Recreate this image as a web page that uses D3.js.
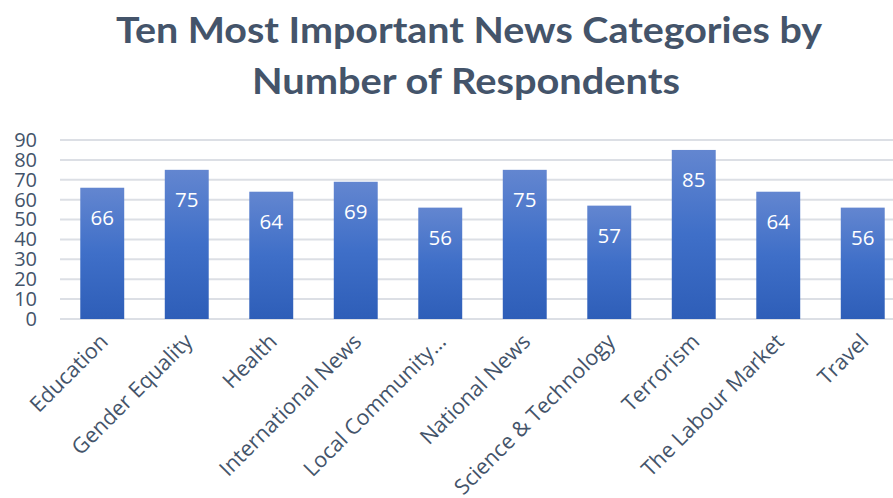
<!DOCTYPE html>
<html>
<head>
<meta charset="utf-8">
<script src="https://cdn.jsdelivr.net/npm/d3@7"></script>
<style>
  html, body { margin: 0; padding: 0; background: #fff; }
  svg { display: block; }
</style>
</head>
<body>
<div id="chart"></div>
<script>
// News categories and how many respondents ranked each among the most important
const categories = [
  "Education", "Gender Equality", "Health", "International News",
  "Local Community\u2026", "National News", "Science & Technology",
  "Terrorism", "The Labour Market", "Travel"
];
const respondents = [66, 75, 64, 69, 56, 75, 57, 85, 64, 56];
const yTicks = [0, 10, 20, 30, 40, 50, 60, 70, 80, 90];
const titleLines = ["Ten Most Important News Categories by", "Number of Respondents"];

const W = 893, H = 498;
const textColor = "#44546A";
const titleFont = "Lato, 'Open Sans', sans-serif";
const font = "'Open Sans', 'Noto Sans', sans-serif";

const svg = d3.select("#chart").append("svg")
  .attr("width", W).attr("height", H);

// Vertical gradient used to fill every bar
const grad = svg.append("defs").append("linearGradient")
  .attr("id", "barFill").attr("x1", 0).attr("y1", 0).attr("x2", 0).attr("y2", 1);
grad.append("stop").attr("offset", "0%").attr("stop-color", "#6386D0");
grad.append("stop").attr("offset", "50%").attr("stop-color", "#3F6FC8");
grad.append("stop").attr("offset", "100%").attr("stop-color", "#2E5EB8");

const x = d3.scaleBand().domain(categories).range([60, 905]).paddingInner(0.48).paddingOuter(0.24);
const y = d3.scaleLinear().domain([0, 90]).range([319, 140]);

// Title
svg.append("g").selectAll("text").data(titleLines).join("text")
  .attr("x", (d, i) => i === 0 ? 469 : 466)
  .attr("y", (d, i) => i === 0 ? 43 : 94)
  .attr("text-anchor", "middle")
  .attr("font-family", titleFont).attr("font-weight", "bold")
  .attr("font-size", 37).attr("fill", textColor)
  .attr("textLength", (d, i) => i === 0 ? 706 : 428)
  .attr("lengthAdjust", "spacingAndGlyphs")
  .text(d => d);

// Horizontal gridlines
svg.append("g").selectAll("line").data(yTicks).join("line")
  .attr("x1", 60).attr("x2", W)
  .attr("y1", d => y(d)).attr("y2", d => y(d))
  .attr("stroke", "#DCDFE5").attr("stroke-width", 2);

// Y axis labels
const yAxis = svg.append("g").attr("transform", "translate(39,0)")
  .call(d3.axisLeft(y).tickValues(yTicks).tickSize(0).tickPadding(2));
yAxis.select(".domain").remove();
yAxis.selectAll("text")
  .attr("font-family", font).attr("font-size", 20).attr("fill", textColor);

// Bars
svg.append("g").selectAll("rect").data(categories).join("rect")
  .attr("x", d => x(d))
  .attr("y", (d, i) => y(respondents[i]))
  .attr("width", x.bandwidth())
  .attr("height", (d, i) => y(0) - y(respondents[i]))
  .attr("fill", "url(#barFill)");

// Value labels inside the top of each bar
svg.append("g").selectAll("text").data(categories).join("text")
  .attr("x", d => x(d) + x.bandwidth() / 2)
  .attr("y", (d, i) => y(respondents[i]) + 37)
  .attr("text-anchor", "middle")
  .attr("font-family", font).attr("font-size", 20.5).attr("fill", "#fff")
  .text((d, i) => respondents[i]);

// Rotated category labels
const xAxis = svg.append("g").attr("transform", `translate(0,${y(0)})`)
  .call(d3.axisBottom(x).tickSize(0).tickPadding(0));
xAxis.select(".domain").remove();
xAxis.selectAll("text")
  .attr("font-family", font).attr("font-size", 21.5).attr("fill", textColor)
  .attr("text-anchor", "end")
  .attr("dy", 0).attr("y", 0)
  .attr("transform", "translate(7,24) rotate(-45)");
</script>
</body>
</html>
